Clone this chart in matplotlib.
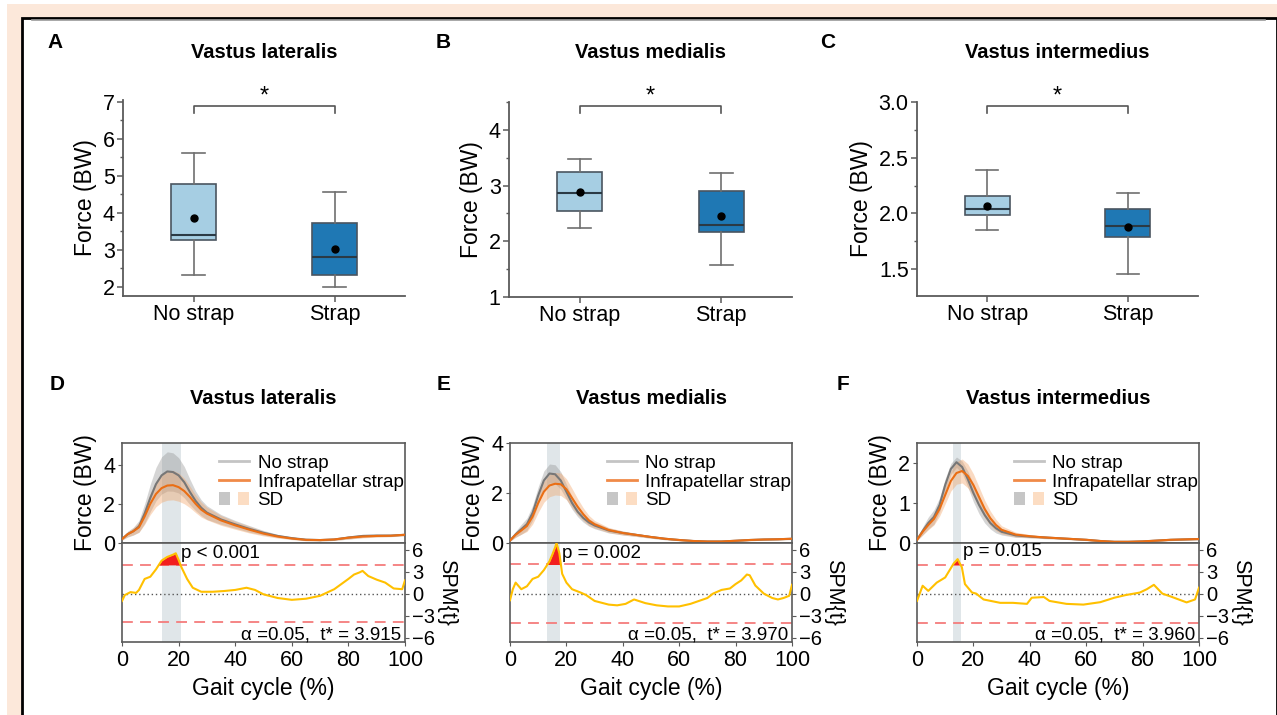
import numpy as np
import matplotlib
matplotlib.use('Agg')
import matplotlib.pyplot as plt
from matplotlib.patches import Rectangle, Patch
from matplotlib.lines import Line2D
from matplotlib.legend_handler import HandlerTuple

plt.rcParams['font.family'] = ['Liberation Sans', 'DejaVu Sans']

W, H = 1277, 715

# ---------------- data: box plots ----------------
groups = ['No strap', 'Strap']
muscles = ['Vastus lateralis', 'Vastus medialis', 'Vastus intermedius']
# [whislo, q1, median, q3, whishi, mean]
vl_no = [2.33, 3.26, 3.41, 4.78, 5.63, 3.86]
vl_st = [2.00, 2.32, 2.80, 3.73, 4.55, 3.02]
vm_no = [2.24, 2.54, 2.87, 3.24, 3.48, 2.89]
vm_st = [1.57, 2.16, 2.29, 2.90, 3.22, 2.45]
vi_no = [1.85, 1.99, 2.04, 2.16, 2.39, 2.07]
vi_st = [1.46, 1.79, 1.89, 2.04, 2.18, 1.88]
box_ticks = [[2, 3, 4, 5, 6, 7], [1, 2, 3, 4], [1.5, 2.0, 2.5, 3.0]]
box_ylim = [(1.75, 7.05), (1.0, 4.5), (1.26, 3.0)]
box_minor = [0.5, 0.5, 0.25]
bracket = [(6.69, 6.89), (4.30, 4.43), (2.90, 2.96)]

# ---------------- data: waveforms ----------------
gx = [0, 2, 4, 6, 8, 10, 12, 14, 16, 18, 20, 22, 24, 26, 28, 30, 35, 40, 45, 50,
      55, 60, 65, 70, 75, 80, 85, 90, 95, 100]
# Vastus lateralis
vl_ns_mean = [0.2, 0.45, 0.6, 0.85, 1.5, 2.3, 3.0, 3.45, 3.65, 3.62, 3.45, 3.1, 2.6, 2.15, 1.8, 1.55,
              1.2, 0.95, 0.72, 0.52, 0.36, 0.25, 0.17, 0.15, 0.18, 0.28, 0.36, 0.38, 0.38, 0.42]
vl_ns_sd = [0.05, 0.15, 0.2, 0.3, 0.5, 0.7, 0.85, 0.95, 1.0, 0.98, 0.9, 0.8, 0.65, 0.5, 0.4, 0.35,
            0.25, 0.2, 0.17, 0.12, 0.08, 0.06, 0.05, 0.05, 0.05, 0.08, 0.08, 0.06, 0.05, 0.05]
vl_st_mean = [0.2, 0.45, 0.6, 0.8, 1.35, 2.0, 2.5, 2.8, 2.93, 2.95, 2.85, 2.65, 2.35, 2.0, 1.7, 1.5,
              1.15, 0.9, 0.68, 0.48, 0.33, 0.23, 0.16, 0.15, 0.18, 0.27, 0.33, 0.36, 0.37, 0.42]
vl_st_sd = [0.05, 0.12, 0.18, 0.25, 0.4, 0.55, 0.65, 0.72, 0.75, 0.75, 0.72, 0.65, 0.55, 0.45, 0.38, 0.32,
            0.25, 0.2, 0.17, 0.12, 0.08, 0.06, 0.05, 0.05, 0.05, 0.07, 0.07, 0.06, 0.05, 0.05]
# Vastus medialis
vm_ns_mean = [0.1, 0.35, 0.55, 0.75, 1.2, 1.9, 2.5, 2.78, 2.75, 2.5, 2.05, 1.6, 1.25, 1.0, 0.82, 0.7,
              0.5, 0.4, 0.32, 0.24, 0.17, 0.12, 0.08, 0.06, 0.06, 0.09, 0.12, 0.14, 0.15, 0.17]
vm_ns_sd = [0.03, 0.12, 0.2, 0.25, 0.3, 0.35, 0.38, 0.38, 0.38, 0.35, 0.3, 0.25, 0.2, 0.17, 0.15, 0.13,
            0.1, 0.08, 0.06, 0.05, 0.04, 0.03, 0.03, 0.03, 0.03, 0.03, 0.03, 0.03, 0.03, 0.03]
vm_st_mean = [0.1, 0.33, 0.5, 0.68, 1.05, 1.6, 2.05, 2.3, 2.37, 2.35, 2.15, 1.8, 1.45, 1.15, 0.9, 0.75,
              0.52, 0.4, 0.32, 0.24, 0.17, 0.12, 0.08, 0.06, 0.06, 0.09, 0.12, 0.14, 0.15, 0.17]
vm_st_sd = [0.03, 0.1, 0.15, 0.22, 0.3, 0.38, 0.42, 0.45, 0.45, 0.45, 0.42, 0.38, 0.32, 0.25, 0.2, 0.15,
            0.1, 0.08, 0.06, 0.05, 0.04, 0.03, 0.03, 0.03, 0.03, 0.03, 0.03, 0.03, 0.03, 0.03]
# Vastus intermedius
vi_ns_mean = [0.08, 0.3, 0.5, 0.65, 0.95, 1.45, 1.85, 2.02, 1.9, 1.6, 1.25, 0.95, 0.7, 0.5, 0.37, 0.28,
              0.19, 0.16, 0.14, 0.12, 0.1, 0.08, 0.05, 0.03, 0.03, 0.04, 0.06, 0.08, 0.09, 0.1]
vi_ns_sd = [0.02, 0.1, 0.15, 0.18, 0.18, 0.16, 0.14, 0.13, 0.15, 0.2, 0.22, 0.22, 0.2, 0.15, 0.12, 0.08,
            0.05, 0.03, 0.03, 0.02, 0.02, 0.02, 0.02, 0.02, 0.02, 0.02, 0.02, 0.02, 0.02, 0.02]
vi_st_mean = [0.08, 0.28, 0.45, 0.6, 0.85, 1.2, 1.55, 1.75, 1.8, 1.68, 1.45, 1.15, 0.85, 0.62, 0.45, 0.33,
              0.21, 0.17, 0.14, 0.12, 0.1, 0.08, 0.05, 0.03, 0.03, 0.04, 0.06, 0.08, 0.09, 0.1]
vi_st_sd = [0.02, 0.08, 0.12, 0.15, 0.18, 0.22, 0.25, 0.28, 0.3, 0.3, 0.28, 0.25, 0.22, 0.18, 0.14, 0.1,
            0.06, 0.04, 0.03, 0.02, 0.02, 0.02, 0.02, 0.02, 0.02, 0.02, 0.02, 0.02, 0.02, 0.02]

# SPM{t} curves
vl_spm_x = [0, 1, 3, 5, 6, 8, 10, 12, 14, 16, 18, 19, 20, 21, 23, 25, 28, 32, 36, 40, 44, 47, 50, 55,
            60, 65, 70, 75, 80, 82, 84, 85, 87, 90, 93, 96, 99, 100]
vl_spm_t = [-1.0, -0.2, 0.2, 0.1, 0.5, 2.0, 2.3, 3.3, 4.5, 5.0, 5.3, 5.5, 4.6, 3.6, 2.0, 0.8, 0.25, 0.25,
            0.35, 0.5, 0.8, 0.5, -0.1, -0.6, -0.85, -0.7, -0.3, 0.6, 2.0, 2.6, 2.9, 3.1, 2.4, 1.9, 1.5,
            0.7, 0.6, 1.8]
vm_spm_x = [0, 1, 2, 4, 6, 8, 10, 12, 14, 15, 16, 16.5, 17.5, 18.5, 20, 22, 25, 27, 30, 35, 38, 41, 44,
            48, 52, 56, 60, 64, 67, 70, 72, 75, 78, 80, 82, 84, 85, 87, 90, 93, 95, 97, 99, 100]
vm_spm_t = [-0.9, 0.6, 1.5, 0.6, 1.0, 2.0, 2.3, 3.2, 4.4, 5.3, 6.3, 6.9, 5.5, 2.7, 1.5, 0.6, 0.15, -0.2,
            -1.0, -1.5, -1.6, -1.4, -0.8, -1.3, -1.6, -1.75, -1.75, -1.4, -1.0, -0.6, 0.0, 0.5, 0.7,
            1.3, 1.8, 2.6, 2.5, 1.1, 0.0, -0.6, -0.8, -0.6, -0.3, 1.2]
vi_spm_x = [0, 2, 4, 7, 10, 13, 14.4, 15.9, 17, 19.5, 21, 23.6, 29.5, 34, 39, 40.7, 45, 47, 53, 59, 65,
            70, 74, 79, 81.5, 84, 87, 90, 95.6, 98.6, 100]
vi_spm_t = [-1.0, 1.07, 0.37, 1.5, 2.2, 4.1, 4.7, 3.6, 1.3, 0.15, 0.0, -0.8, -1.26, -1.26, -1.4, -0.56,
            -0.47, -1.0, -1.4, -1.5, -1.17, -0.56, -0.2, 0.14, 0.6, 1.2, 0.0, -0.4, -1.2, -0.8, 0.8]
t_star = [3.915, 3.970, 3.960]
p_text = ['p < 0.001', 'p = 0.002', 'p = 0.015']
sig_region = [(14.1, 20.8), (13.1, 17.7), (12.6, 15.7)]
force_ylim = [(0, 5.1), (0, 4), (0, 2.5)]
force_ticks = [[0, 2, 4], [0, 2, 4], [0, 1, 2]]

box_data = [(vl_no, vl_st), (vm_no, vm_st), (vi_no, vi_st)]
wave_data = [
    (vl_ns_mean, vl_ns_sd, vl_st_mean, vl_st_sd, vl_spm_x, vl_spm_t),
    (vm_ns_mean, vm_ns_sd, vm_st_mean, vm_st_sd, vm_spm_x, vm_spm_t),
    (vi_ns_mean, vi_ns_sd, vi_st_mean, vi_st_sd, vi_spm_x, vi_spm_t),
]

# ---------------- styling ----------------
c_light = '#A6CEE3'
c_dark = '#1F78B4'
c_edge = '#4A5560'
c_spine = '#5a5a5a'
c_gray_line = '#777777'
c_gray_band = '#8c8c8c'
c_orange_line = '#EA6E14'
c_orange_band = '#F2A060'
c_spm = '#FFC000'
c_sig = '#E0E6E9'

fig = plt.figure(figsize=(W / 100, H / 100), dpi=100)
fig.patch.set_facecolor('white')


def rect(l, t, r, b):
    return [l / W, 1 - b / H, (r - l) / W, (b - t) / H]


# frame
fig.patches.append(Rectangle((7 / W, 0), 1 - 7 / W, 1 - 4 / H, transform=fig.transFigure,
                             facecolor='#FCE8DA', edgecolor='none', zorder=-10))
fig.patches.append(Rectangle((21.5 / W, -0.01), (1276.5 - 21.5) / W, 1 - 17.5 / H + 0.01,
                             transform=fig.transFigure, facecolor='white', edgecolor='black',
                             linewidth=2, zorder=-9))
fig.lines.append(Line2D([32 / W, 1265 / W], [1 - 19.5 / H, 1 - 19.5 / H], transform=fig.transFigure,
                        color='#9a9a9a', lw=1.2))

# ---------------- top row ----------------
top_rects = [rect(123, 100, 405, 296), rect(509, 102, 792, 297), rect(917, 102, 1198, 296)]
letters_top = [('A', 55, 42), ('B', 443, 42), ('C', 828, 42)]
for i in range(3):
    ax = fig.add_axes(top_rects[i])
    no, st = box_data[i]
    stats = []
    for lab, d in zip(groups, (no, st)):
        stats.append(dict(label=lab, whislo=d[0], q1=d[1], med=d[2], q3=d[3], whishi=d[4],
                          mean=d[5], fliers=[]))
    bp = ax.bxp(stats, positions=[0, 1], widths=0.32, patch_artist=True, showmeans=True,
                boxprops=dict(edgecolor=c_edge, linewidth=1.2),
                medianprops=dict(color='#2b3a45', linewidth=1.5),
                whiskerprops=dict(color='#707070', linewidth=1.2),
                capprops=dict(color='#707070', linewidth=1.2),
                meanprops=dict(marker='o', markerfacecolor='black', markeredgecolor='black',
                               markersize=5))
    for patch, col in zip(bp['boxes'], (c_light, c_dark)):
        patch.set_facecolor(col)
    ax.set_xlim(-0.5, 1.5)
    ax.set_ylim(*box_ylim[i])
    ax.set_yticks(box_ticks[i])
    if i == 2:
        ax.set_yticklabels(['%.1f' % v for v in box_ticks[i]])
    ax.yaxis.set_minor_locator(matplotlib.ticker.MultipleLocator(box_minor[i]))
    for s in ('top', 'right'):
        ax.spines[s].set_visible(False)
    for s in ('left', 'bottom'):
        ax.spines[s].set_color(c_spine)
        ax.spines[s].set_linewidth(1.3)
    ax.tick_params(axis='both', which='major', labelsize=15.5, color=c_spine, length=4, width=1.1,
                   pad=2)
    ax.tick_params(axis='y', which='minor', color=c_spine, length=2.5, width=1)
    ax.set_xticks([0, 1])
    ax.set_xticklabels(groups)
    ax.set_ylabel('Force (BW)', fontsize=16.5, labelpad=4)
    # significance bracket
    b0, b1 = bracket[i]
    ax.plot([0, 0, 1, 1], [b0, b1, b1, b0], color='#555555', lw=1.2, clip_on=False)
    ax.annotate('*', (0.5, b1), xytext=(0, 7), textcoords='offset points', ha='center',
                va='center', fontsize=17, annotation_clip=False)
    pos = ax.get_position()
    fig.text((pos.x0 + pos.x1) / 2, 1 - 53 / H, muscles[i], ha='center', va='center',
             fontsize=14.5, fontweight='bold')
    L, lx, ly = letters_top[i]
    fig.text(lx / W, 1 - ly / H, L, ha='center', va='center', fontsize=15, fontweight='bold')

# ---------------- bottom row ----------------
xl = [(122, 405), (510, 792), (917, 1199)]
letters_bot = [('D', 57, 384), ('E', 444, 384), ('F', 843, 384)]
p_pos = [(21.0, 5.5), (18.4, 5.5), (16.3, 5.8)]
for i in range(3):
    l, r = xl[i]
    axu = fig.add_axes(rect(l, 443, r, 543))
    axl = fig.add_axes(rect(l, 543, r, 642), sharex=axu)
    ns_m, ns_s, st_m, st_s, sx, st_t = wave_data[i]
    ns_m = np.array(ns_m); ns_s = np.array(ns_s)
    st_m = np.array(st_m); st_s = np.array(st_s)
    a, b = sig_region[i]
    for ax in (axu, axl):
        ax.axvspan(a, b, color=c_sig, lw=0, zorder=0)
        for s in ax.spines.values():
            s.set_color(c_spine)
            s.set_linewidth(1.2)
    axu.fill_between(gx, ns_m - ns_s, ns_m + ns_s, color=c_gray_band, alpha=0.36, lw=0, zorder=1)
    axu.fill_between(gx, st_m - st_s, st_m + st_s, color=c_orange_band, alpha=0.38, lw=0, zorder=2)
    axu.plot(gx, ns_m, color=c_gray_line, lw=1.5, zorder=3)
    axu.plot(gx, st_m, color=c_orange_line, lw=1.5, zorder=4)
    axu.set_xlim(0, 100)
    axu.set_ylim(*force_ylim[i])
    axu.set_yticks(force_ticks[i])
    axu.tick_params(axis='x', which='both', bottom=False, labelbottom=False)
    axu.tick_params(axis='y', labelsize=15.5, color=c_spine, length=3, pad=2)
    axu.set_ylabel('Force (BW)', fontsize=16.5, labelpad=4)
    handles = [Line2D([], [], color='#c4c4c4', lw=2),
               Line2D([], [], color='#F08A48', lw=2),
               (Patch(facecolor='#c6c6c6', edgecolor='none'), Patch(facecolor='#FCDDC3', edgecolor='none'))]
    axu.legend(handles, ['No strap', 'Infrapatellar strap', 'SD'], loc='upper left',
               bbox_to_anchor=(0.31, 0.975), borderaxespad=0.1, frameon=False, fontsize=13.5,
               handlelength=1.6, handletextpad=0.45, labelspacing=0.08,
               handler_map={tuple: HandlerTuple(ndivide=None, pad=0.4)})

    # SPM
    tst = t_star[i]
    sx = np.array(sx); tt = np.array(st_t)
    axl.axhline(0, color='#555555', lw=1, ls=(0, (1, 2)), zorder=1)
    axl.axhline(tst, color='#F47C7C', lw=1.3, ls=(0, (6, 4)), zorder=1)
    axl.axhline(-tst, color='#F47C7C', lw=1.3, ls=(0, (6, 4)), zorder=1)
    axl.fill_between(sx, tst, tt, where=tt > tst, interpolate=True, color='#F21E1E', lw=0, zorder=2)
    axl.plot(sx, tt, color=c_spm, lw=1.5, zorder=3)
    axl.set_ylim(-6.6, 6.9)
    axl.set_xlim(0, 100)
    axl.set_xticks([0, 20, 40, 60, 80, 100])
    axl.yaxis.tick_right()
    axl.yaxis.set_label_position('right')
    axl.set_yticks([-6, -3, 0, 3, 6])
    axl.tick_params(axis='y', labelsize=14.5, color=c_spine, length=3, pad=2)
    axl.tick_params(axis='x', labelsize=15.5, color=c_spine, length=3, pad=3)
    axl.set_ylabel('SPM{t}', fontsize=15.5, rotation=270, labelpad=16)
    axl.set_xlabel('Gait cycle (%)', fontsize=16.5, labelpad=4)
    px, py = p_pos[i]
    axl.text(px, py, p_text[i], ha='left', va='center', fontsize=13.5, zorder=5)
    axl.text(98.5, -5.6, 'α =0.05,  t* = %.3f' % tst, ha='right', va='center', fontsize=13.5,
             zorder=5)

    pos = axu.get_position()
    fig.text((pos.x0 + pos.x1) / 2, 1 - 398 / H, muscles[i], ha='center', va='center',
             fontsize=14.5, fontweight='bold')
    L, lx, ly = letters_bot[i]
    fig.text(lx / W, 1 - ly / H, L, ha='center', va='center', fontsize=15, fontweight='bold')

fig.savefig('out.png', dpi=100, facecolor='white')
